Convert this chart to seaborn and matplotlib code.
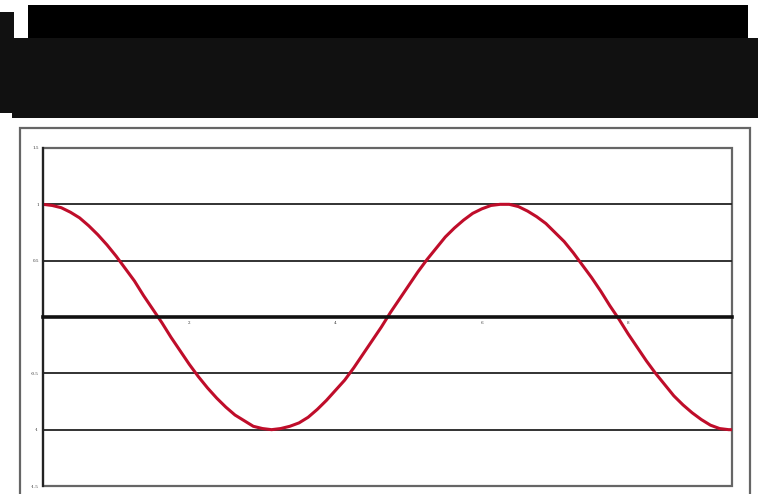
import matplotlib
matplotlib.use("Agg")
import matplotlib.pyplot as plt
from matplotlib.patches import Rectangle
import seaborn as sns
import pandas as pd

# Data (one and a half periods of a wave)
x_vals = [0.0, 0.125, 0.25, 0.375, 0.5, 0.625, 0.75, 0.875, 1.0, 1.125, 1.25, 1.375,
          1.5, 1.625, 1.75, 1.875, 2.0, 2.125, 2.25, 2.375, 2.5, 2.625, 2.75, 2.875,
          3.0, 3.125, 3.25, 3.375, 3.5, 3.625, 3.75, 3.875, 4.0, 4.125, 4.25, 4.375,
          4.5, 4.625, 4.75, 4.875, 5.0, 5.125, 5.25, 5.375, 5.5, 5.625, 5.75, 5.875,
          6.0, 6.125, 6.25, 6.375, 6.5, 6.625, 6.75, 6.875, 7.0, 7.125, 7.25, 7.375,
          7.5, 7.625, 7.75, 7.875, 8.0, 8.125, 8.25, 8.375, 8.5, 8.625, 8.75, 8.875,
          9.0, 9.125, 9.25, 9.375, 9.42]
y_vals = [1.00, 0.99, 0.97, 0.93, 0.88, 0.81, 0.73, 0.64, 0.54, 0.43, 0.32, 0.19,
          0.07, -0.05, -0.18, -0.30, -0.42, -0.53, -0.63, -0.72, -0.80, -0.87, -0.92, -0.97,
          -0.99, -1.00, -0.99, -0.97, -0.94, -0.89, -0.82, -0.74, -0.65, -0.56, -0.45, -0.33,
          -0.21, -0.09, 0.04, 0.16, 0.28, 0.40, 0.51, 0.61, 0.71, 0.79, 0.86, 0.92,
          0.96, 0.99, 1.00, 1.00, 0.98, 0.94, 0.89, 0.83, 0.75, 0.67, 0.57, 0.46,
          0.35, 0.23, 0.10, -0.02, -0.15, -0.27, -0.39, -0.50, -0.60, -0.70, -0.78, -0.85,
          -0.91, -0.96, -0.99, -1.00, -1.00]
x_ticks = [2, 4, 6, 8]
x_tick_labels = ["2", "4", "6", "8"]
y_ticks = [-1.5, -1, -0.5, 0, 0.5, 1, 1.5]
y_tick_labels = ["-1.5", "-1", "-0.5", "", "0.5", "1", "1.5"]

df = pd.DataFrame({"x": x_vals, "y": y_vals})

sns.set_theme(style="white")
plt.rcParams['font.family'] = ['DejaVu Serif', 'DejaVu Sans']

fig = plt.figure(figsize=(7.58, 4.94), dpi=100)
W, H = 758, 494

def fig_rect(x0, y0, x1, y1, **kw):
    fig.patches.append(Rectangle((x0 / W, 1 - y1 / H), (x1 - x0) / W, (y1 - y0) / H,
                                 transform=fig.transFigure, figure=fig, **kw))

# Dark title blocks at the top
fig_rect(28, 5, 748, 40, facecolor="#000000", edgecolor="none")
fig_rect(0, 12, 14, 113, facecolor="#111111", edgecolor="none")
fig_rect(12, 38, 758, 118, facecolor="#111111", edgecolor="none")
# Outer chart frame
fig_rect(20, 128, 750, 505, facecolor="none", edgecolor="#666666", linewidth=1.6)

ax = fig.add_axes([43 / W, 1 - 486 / H, (732 - 43) / W, (486 - 148) / H])
sns.lineplot(data=df, x="x", y="y", ax=ax, color="#bf0d2a", linewidth=2.2)

ax.set_xlim(0, 9.42)
ax.set_ylim(-1.5, 1.5)
for yv in [-1, -0.5, 0.5, 1]:
    ax.axhline(yv, color="#222222", linewidth=1.3, zorder=1)

ax.spines['bottom'].set_position(('data', 0))
ax.spines['bottom'].set_color("#111111")
ax.spines['bottom'].set_linewidth(2.6)
ax.spines['left'].set_color("#222222")
ax.spines['left'].set_linewidth(1.6)
ax.spines['top'].set_visible(False)
ax.spines['right'].set_visible(False)
ax.add_patch(Rectangle((0, 0), 1, 1, transform=ax.transAxes, facecolor="none",
                       edgecolor="#666666", linewidth=1.6, clip_on=False, zorder=0))

ax.set_xticks(x_ticks)
ax.set_xticklabels(x_tick_labels, fontsize=3)
ax.set_yticks(y_ticks)
ax.set_yticklabels(y_tick_labels, fontsize=3)
ax.tick_params(axis='both', length=0, pad=3, colors="#333333")
ax.set_xlabel("")
ax.set_ylabel("")

fig.savefig("out.png", dpi=100)
